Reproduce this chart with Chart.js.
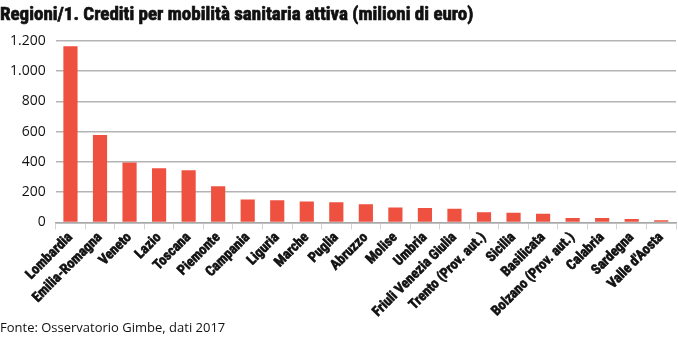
<!DOCTYPE html>
<html>
<head>
<meta charset="utf-8">
<script src="https://cdn.jsdelivr.net/npm/chart.js@4"></script>
<style>
  html, body { margin: 0; padding: 0; background: #fff; }
  #wrap { width: 678px; height: 339px; position: relative; }
  #titolo {
    position: absolute; left: 0; top: 2px;
    font-family: "Roboto Condensed", "Open Sans Condensed", sans-serif;
    font-size: 19px; font-weight: bold; color: #111;
    -webkit-text-stroke: 0.7px #111;
    white-space: nowrap; line-height: 24px;
  }
</style>
</head>
<body>
<div id="wrap">
  <div id="titolo"></div>
  <canvas id="creditiChart" width="678" height="339"></canvas>
</div>
<script>
// regioni e crediti (milioni di euro)
const regioni = [
    'Lombardia', 'Emilia-Romagna', 'Veneto', 'Lazio', 'Toscana', 'Piemonte',
    'Campania', 'Liguria', 'Marche', 'Puglia', 'Abruzzo', 'Molise', 'Umbria',
    'Friuli Venezia Giulia', 'Trento (Prov. aut.)', 'Sicilia', 'Basilicata',
    'Bolzano (Prov. aut.)', 'Calabria', 'Sardegna', "Valle d'Aosta"
];
const crediti = [
    1165, 578, 396, 358, 345, 240,
    151, 147, 139, 134, 121, 99, 95,
    90, 68, 64, 57,
    29, 29, 22, 15
];
const yTicks = [0, 200, 400, 600, 800, 1000, 1200];

const titolo = 'Regioni/1. Crediti per mobilità sanitaria attiva (milioni di euro)';
const fonte = 'Fonte: Osservatorio Gimbe, dati 2017';

const narrow = '"Roboto Condensed", "Open Sans Condensed", sans-serif';
const regular = '"Open Sans", sans-serif';

function formatIt(v) {
    return v.toLocaleString('it-IT').replace(/\u00a0/g, '.');
}

function renderChart() {
    document.getElementById('titolo').textContent = titolo;
    const ctx = document.getElementById('creditiChart').getContext('2d');

    new Chart(ctx, {
        type: 'bar',
        data: {
            labels: regioni,
            datasets: [{
                data: crediti,
                backgroundColor: '#ee513f',
                borderWidth: 0,
                categoryPercentage: 1,
                barPercentage: 0.48
            }]
        },
        options: {
            responsive: false,
            animation: false,
            layout: { padding: { left: 0, right: 2, top: 41, bottom: 0 } },
            plugins: {
                legend: { display: false },
                tooltip: { enabled: false },
                subtitle: {
                    display: true,
                    text: fonte,
                    position: 'bottom',
                    align: 'start',
                    color: '#111',
                    font: { family: regular, size: 13 },
                    padding: { top: 0, bottom: 3 }
                }
            },
            scales: {
                x: {
                    grid: {
                        display: true,
                        drawOnChartArea: false,
                        offset: true,
                        tickLength: 7,
                        color: '#d4d4d4'
                    },
                    border: { color: '#a8a8a8', width: 1.5 },
                    ticks: {
                        autoSkip: false,
                        maxRotation: 45,
                        minRotation: 45,
                        padding: 0,
                        color: '#111',
                        textStrokeColor: '#111',
                        textStrokeWidth: 0.6,
                        font: { family: narrow, size: 14, weight: 'bold' }
                    }
                },
                y: {
                    min: 0,
                    max: 1200,
                    afterBuildTicks: axis => {
                        axis.ticks = yTicks.map(v => ({ value: v }));
                    },
                    grid: { color: '#b4b4b4', lineWidth: 1.5, drawTicks: false },
                    border: { display: false },
                    ticks: {
                        padding: 10,
                        color: '#111',
                        font: { family: regular, size: 14 },
                        callback: v => formatIt(v)
                    }
                }
            }
        }
    });
}

document.addEventListener('DOMContentLoaded', renderChart);
</script>
</body>
</html>
